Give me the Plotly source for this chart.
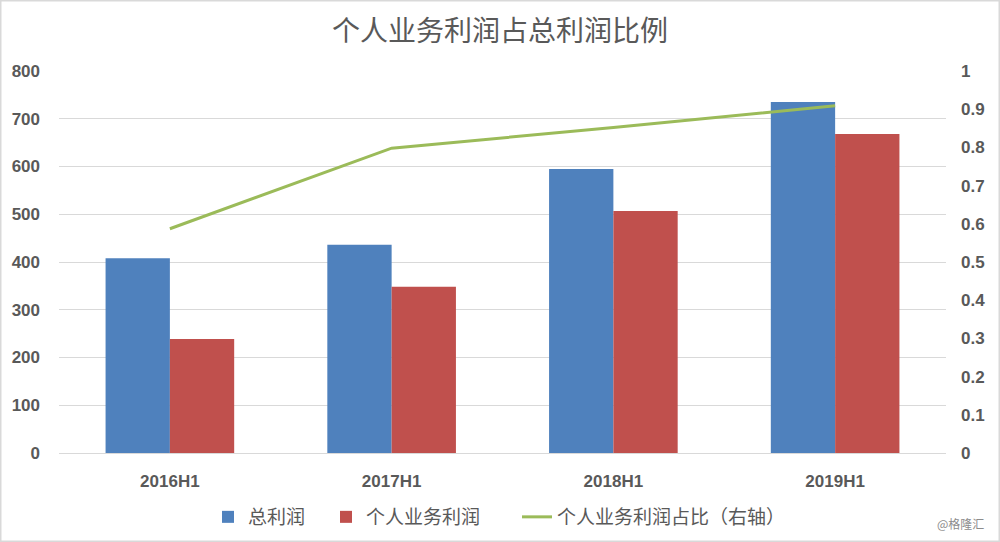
import plotly.graph_objects as go

categories = ["2016H1", "2017H1", "2018H1", "2019H1"]
total_profit = [408, 436, 595, 735]
personal_profit = [239, 348, 507, 668]
ratio = [0.587, 0.798, 0.852, 0.909]

left_ticks = [0, 100, 200, 300, 400, 500, 600, 700, 800]
right_ticks = [0, 0.1, 0.2, 0.3, 0.4, 0.5, 0.6, 0.7, 0.8, 0.9, 1]
right_labels = ["0", "0.1", "0.2", "0.3", "0.4", "0.5", "0.6", "0.7", "0.8", "0.9", "1"]

font_cjk = "Noto Sans CJK SC, Noto Sans, sans-serif"
grey = "#595959"
tick_font = dict(family="Liberation Sans, Arial", size=17, color=grey, weight="bold")

PW, PH, L, B = 887, 382, 59, 89


def px_x(p):
    return (p - L) / PW


fig = go.Figure()
fig.add_trace(go.Bar(x=categories, y=total_profit, name="总利润", legend="legend",
                     showlegend=True,
                     marker=dict(color="#4f81bd", line=dict(width=0))))
fig.add_trace(go.Bar(x=categories, y=personal_profit, name="个人业务利润", legend="legend2",
                     showlegend=True,
                     marker=dict(color="#c0504d", line=dict(width=0))))
fig.add_trace(go.Scatter(x=categories, y=ratio, name="个人业务利润占比（右轴）", legend="legend3",
                         showlegend=True,
                         mode="lines", line=dict(color="#9bbb59", width=3),
                         yaxis="y2"))

leg_common = dict(orientation="h", xanchor="left", y=-64/PH, yanchor="middle",
                  font=dict(family=font_cjk, size=19, color=grey),
                  itemwidth=30, bgcolor="rgba(0,0,0,0)")

fig.update_layout(
    width=1000, height=542,
    showlegend=True,
    margin=dict(l=L, r=54, t=71, b=B, autoexpand=False),
    paper_bgcolor="white", plot_bgcolor="white",
    barmode="group", bargap=0.42, bargroupgap=0,
    title=dict(text="个人业务利润占总利润比例", x=0.5, xanchor="center",
               y=1 - 31/542, yanchor="middle",
               font=dict(family=font_cjk, size=28, color=grey)),
    font=dict(family=font_cjk, color=grey),
    xaxis=dict(showgrid=False, showline=False, ticks="", ticklabelstandoff=16,
               tickfont=tick_font),
    yaxis=dict(range=[0, 800], tickvals=left_ticks, showgrid=True,
               gridcolor="#d9d9d9", gridwidth=1, zeroline=True,
               zerolinecolor="#d9d9d9", zerolinewidth=1, ticks="",
               ticklabelstandoff=18, tickfont=tick_font),
    yaxis2=dict(range=[0, 1], tickvals=right_ticks, ticktext=right_labels,
                overlaying="y", side="right",
                showgrid=False, zeroline=False, ticks="", ticklabelstandoff=14,
                tickfont=tick_font),
    legend=dict(x=px_x(208), **leg_common),
    legend2=dict(x=px_x(326), **leg_common),
    legend3=dict(x=px_x(517), **leg_common),
)
fig.update_layout(shapes=[dict(type="rect", xref="paper", yref="paper",
                               x0=-L/PW, x1=1+54/PW, y0=-B/PH, y1=1+71/PH,
                               line=dict(color="#d9d9d9", width=3), layer="below")])
fig.add_annotation(text="@格隆汇", xref="paper", yref="paper",
                   x=1+40/PW, y=-70/PH, xanchor="right", yanchor="middle",
                   showarrow=False, font=dict(family=font_cjk, size=12, color="#8c8c8c"))

fig.write_html("out.html")
